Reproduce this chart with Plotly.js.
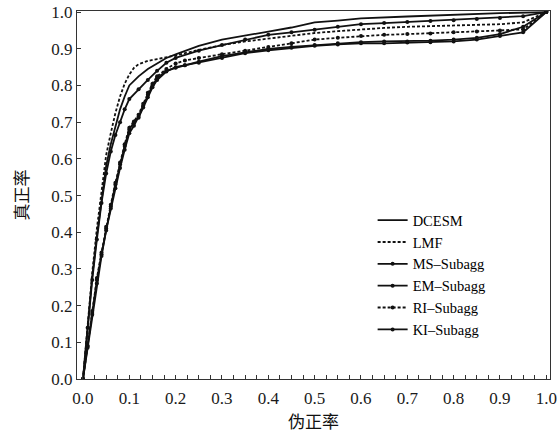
<!DOCTYPE html>
<html><head><meta charset="utf-8">
<script src="https://cdn.plot.ly/plotly-3.0.1.min.js"></script>
<style>body{margin:0;background:#fff}#c{width:559px;height:437px}</style>
</head><body><div id="c"></div>
<script>
const xA = [0,0.01,0.02,0.03,0.04,0.05,0.06,0.07,0.08,0.09,0.1,0.11,0.12,0.14,0.16,0.18,0.2,0.25,0.3,0.35,0.4,0.45,0.5,0.55,0.6,0.65,0.7,0.75,0.8,0.85,0.9,0.95,1.0];
const lmf = [0,0.15,0.29,0.41,0.51,0.61,0.67,0.725,0.77,0.805,0.83,0.848,0.858,0.867,0.872,0.877,0.882,0.897,0.91,0.92,0.928,0.935,0.943,0.948,0.953,0.957,0.96,0.962,0.964,0.965,0.967,0.972,1.0];

const xD = [0,0.01,0.02,0.03,0.04,0.05,0.06,0.07,0.08,0.09,0.1,0.12,0.14,0.16,0.18,0.2,0.25,0.3,0.35,0.4,0.45,0.5,0.55,0.6,0.7,0.8,0.9,1];
const dcesm = [0,0.14,0.28,0.39,0.49,0.58,0.64,0.69,0.735,0.77,0.80,0.825,0.845,0.86,0.875,0.885,0.908,0.925,0.937,0.947,0.958,0.972,0.977,0.983,0.988,0.993,0.997,1];

const xK = [0,0.01,0.02,0.03,0.04,0.05,0.06,0.07,0.08,0.09,0.1,0.12,0.14,0.16,0.18,0.2,0.25,0.3,0.35,0.4,0.45,0.5,0.55,0.6,0.65,0.7,0.75,0.8,0.85,0.9,0.95,1];
const kiSub = [0,0.14,0.27,0.38,0.48,0.56,0.62,0.665,0.70,0.735,0.763,0.79,0.815,0.84,0.862,0.875,0.895,0.91,0.925,0.938,0.945,0.952,0.96,0.967,0.97,0.973,0.976,0.978,0.981,0.984,0.989,1];

const xL = [0,0.01,0.02,0.03,0.04,0.05,0.06,0.07,0.08,0.09,0.1,0.11,0.12,0.13,0.14,0.15,0.16,0.18,0.2,0.22,0.25,0.3,0.35,0.4,0.45,0.5,0.55,0.6,0.65,0.7,0.75,0.8,0.85,0.9,0.95,1];
const msSub = [0,0.09,0.18,0.27,0.34,0.41,0.47,0.53,0.585,0.635,0.68,0.70,0.712,0.74,0.768,0.795,0.815,0.838,0.85,0.855,0.862,0.875,0.888,0.896,0.903,0.908,0.912,0.915,0.915,0.917,0.918,0.92,0.925,0.935,0.945,1];
const emSub = [0,0.085,0.175,0.26,0.335,0.405,0.465,0.52,0.575,0.625,0.67,0.69,0.715,0.745,0.775,0.80,0.82,0.84,0.848,0.855,0.865,0.88,0.89,0.9,0.905,0.91,0.915,0.918,0.92,0.92,0.922,0.925,0.93,0.94,0.96,1];
const riSub = [0,0.09,0.185,0.275,0.345,0.415,0.475,0.535,0.59,0.64,0.685,0.702,0.72,0.75,0.78,0.805,0.825,0.845,0.86,0.868,0.875,0.885,0.895,0.905,0.915,0.925,0.93,0.935,0.938,0.94,0.942,0.945,0.947,0.95,0.953,1];

const tickVals = [0,0.1,0.2,0.3,0.4,0.5,0.6,0.7,0.8,0.9,1];
const tickText = ['0.0','0.1','0.2','0.3','0.4','0.5','0.6','0.7','0.8','0.9','1.0'];
const names = ['DCESM','LMF','MS\u2013Subagg','EM\u2013Subagg','RI\u2013Subagg','KI\u2013Subagg'];
const K = '#111';
function tr(x,y,name,dash,markers){
  return {x:x,y:y,name:name,type:'scatter',mode: markers?'lines+markers':'lines',
    line:{color:K,width:1.8,dash:dash},
    marker:{color:K,size:4,symbol:'circle'}};
}
const data = [
  tr(xD,dcesm,names[0],'solid',false),
  tr(xA,lmf,names[1],'3px,2px',false),
  tr(xL,msSub,names[2],'solid',true),
  tr(xL,emSub,names[3],'solid',true),
  tr(xL,riSub,names[4],'3px,2px',true),
  tr(xK,kiSub,names[5],'solid',true)
];
const tickFont = {family:'Liberation Serif, Times New Roman, serif', size:17, color:'#1a1a1a'};
const cjk = {family:'Noto Sans CJK SC, sans-serif', size:17, color:'#111'};
const layout = {
  width:559, height:437,
  margin:{l:77, r:9, t:11, b:58},
  paper_bgcolor:'#fff', plot_bgcolor:'#fff',
  showlegend:true,
  legend:{x:0.625, y:0.475, xanchor:'left', yanchor:'top', bgcolor:'rgba(0,0,0,0)',
    font:{family:'Liberation Serif, Times New Roman, serif', size:14.5, color:'#000'},
    tracegroupgap:0, itemwidth:30},
  xaxis:{range:[-0.0129,1.008], tickmode:'array', tickvals:tickVals, ticktext:tickText,
    ticks:'inside', ticklen:4, tickcolor:'#333', tickfont:tickFont, ticklabeloverflow:'allow',
    ticklabelstandoff:3,
    minor:{dtick:0.025, tick0:0, ticks:'inside', ticklen:4, tickcolor:'#333'},
    showgrid:false, zeroline:false, showline:true, mirror:true, linecolor:'#333', linewidth:1.2,
    title:{text:'伪正率', font:cjk, standoff:4}},
  yaxis:{range:[0,1.003], tickmode:'array', tickvals:tickVals, ticktext:tickText,
    ticks:'inside', ticklen:4, tickcolor:'#333', tickfont:tickFont, ticklabeloverflow:'allow',
    showgrid:false, zeroline:false, showline:true, mirror:true, linecolor:'#333', linewidth:1.2,
    title:{text:'真正率', font:cjk, standoff:18}}
};
Plotly.newPlot('c', data, layout, {displayModeBar:false, staticPlot:true});
</script></body></html>
